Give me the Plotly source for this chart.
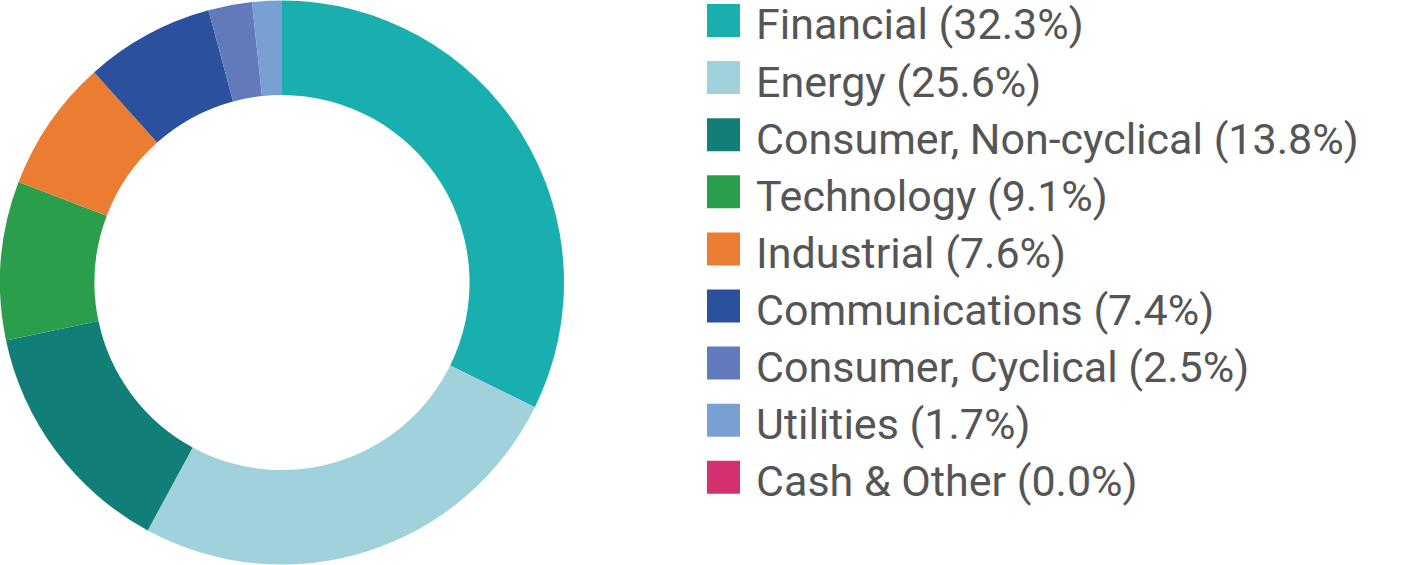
import plotly.graph_objects as go

categories = ["Financial", "Energy", "Consumer, Non-cyclical", "Technology", "Industrial",
              "Communications", "Consumer, Cyclical", "Utilities", "Cash & Other"]
values = [32.3, 25.6, 13.8, 9.1, 7.6, 7.4, 2.5, 1.7, 0.0]
colors = ["#1AAFAF", "#A1D2DB", "#127E78", "#2A9E4B", "#EB7D33",
          "#2B509E", "#6279BC", "#79A0D3", "#D4306F"]

W, H = 1427, 565
fig = go.Figure()
fig.add_trace(go.Pie(
    labels=categories, values=values, hole=0.665, sort=False, direction="clockwise",
    rotation=0, marker=dict(colors=colors, line=dict(width=0)),
    textinfo="none", hoverinfo="label+percent", showlegend=False,
    domain=dict(x=[0, 564 / W], y=[0, 1]),
))

sw_x0, sw_x1 = 707, 740
y0, step, half = 20.5, 57.1, 16.5
for i, (c, v, col) in enumerate(zip(categories, values, colors)):
    cy = y0 + step * i
    fig.add_shape(type="rect", xref="paper", yref="paper",
                  x0=sw_x0 / W, x1=sw_x1 / W, y0=1 - (cy - half) / H, y1=1 - (cy + half) / H,
                  fillcolor=col, line=dict(width=0))
    fig.add_annotation(xref="paper", yref="paper", x=754 / W, y=1 - (cy + 4) / H,
                       xanchor="left", yanchor="middle", showarrow=False,
                       text=f"{c} ({v:.1f}%)",
                       font=dict(family="Roboto", size=43, color="#555555"))

fig.update_layout(width=W, height=H, margin=dict(l=0, r=0, t=0, b=0),
                  paper_bgcolor="white", plot_bgcolor="white")
fig.write_html("out.html")
